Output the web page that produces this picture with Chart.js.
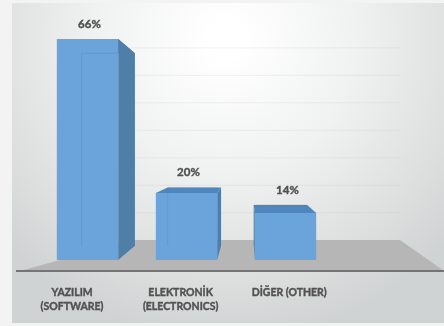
<!DOCTYPE html>
<html>
<head>
<meta charset="utf-8">
<style>
  body { margin: 0; background: #f3f3f3; }
  canvas { display: block; filter: blur(0.5px); }
</style>
<script src="https://cdn.jsdelivr.net/npm/chart.js@4"></script>
</head>
<body>
<canvas id="myChart" width="444" height="326"></canvas>
<script>
// 4th slot stays empty, the original chart leaves it blank
const categories = ["YAZILIM (SOFTWARE)", "ELEKTRONİK (ELECTRONICS)", "DİĞER (OTHER)", ""];
const categoryLines = [["YAZILIM", "(SOFTWARE)"], ["ELEKTRONİK", "(ELECTRONICS)"], ["DİĞER (OTHER)"], []];
const shares = [66, 20, 14, null];
const gridValues = [10, 20, 30, 40, 50, 60, 70];

const vanishX = 247;
const vanishY = 150;
const barDepth = 0.13;
const wallDepth = 0.18;
const labelSpread = 1.097;

function back(x, y, k) {
  return [x + (vanishX - x) * k, y + (vanishY - y) * k];
}

function poly(ctx, points, color) {
  ctx.fillStyle = color;
  ctx.beginPath();
  points.forEach((p, i) => (i ? ctx.lineTo(p[0], p[1]) : ctx.moveTo(p[0], p[1])));
  ctx.closePath();
  ctx.fill();
}

const scene = {
  id: "scene",
  beforeDraw(chart) {
    const ctx = chart.ctx;
    const yScale = chart.scales.y;
    ctx.save();

    // page + gradient panel
    ctx.fillStyle = "#f3f3f3";
    ctx.fillRect(0, 0, 444, 326);
    const bg = ctx.createRadialGradient(225, 40, 20, 225, 40, 300);
    bg.addColorStop(0, "#ffffff");
    bg.addColorStop(0.4, "#f0f1f1");
    bg.addColorStop(0.8, "#dcdede");
    bg.addColorStop(1, "#d0d3d3");
    ctx.fillStyle = bg;
    ctx.fillRect(12, 3, 432, 320);

    // back wall lines
    ctx.strokeStyle = "rgba(190,190,190,0.2)";
    ctx.lineWidth = 1;
    gridValues.forEach((v) => {
      const y = back(0, yScale.getPixelForValue(v), wallDepth)[1];
      ctx.beginPath();
      ctx.moveTo(132, y);
      ctx.lineTo(400, y);
      ctx.stroke();
    });

    // floor
    poly(ctx, [[20, 271], [132, 240], [400, 240], [444, 271]], "#b6b6b6");
    ctx.fillStyle = "#757575";
    ctx.fillRect(16, 270, 428, 2);
    ctx.restore();
  },
  beforeDatasetsDraw(chart) {
    const ctx = chart.ctx;
    ctx.save();
    chart.getDatasetMeta(0).data.forEach((bar, i) => {
      if (shares[i] === null) return;
      const left = bar.x - bar.width / 2;
      const right = bar.x + bar.width / 2;
      const top = bar.y;
      const bottom = bar.base;
      const bl = back(left, top, barDepth);
      const br = back(right, top, barDepth);
      const bbl = back(left, bottom, barDepth);
      const bbr = back(right, bottom, barDepth);
      // top face
      poly(ctx, [[left, top], [right, top], br, bl], "#4f86bd");
      // side faces, only the one turned to the viewer shows
      if (right < vanishX) poly(ctx, [[right, top], br, bbr, [right, bottom]], "#4f7fa9");
      if (left > vanishX) poly(ctx, [[left, top], bl, bbl, [left, bottom]], "#4f7fa9");
    });
    ctx.restore();
  },
  afterDatasetsDraw(chart) {
    const ctx = chart.ctx;
    ctx.save();
    ctx.textAlign = "center";
    ctx.textBaseline = "middle";
    ctx.fillStyle = "#525252";
    ctx.strokeStyle = "#525252";
    chart.getDatasetMeta(0).data.forEach((bar, i) => {
      // see-through back edges of the box
      if (shares[i] !== null) {
        const left = bar.x - bar.width / 2;
        const right = bar.x + bar.width / 2;
        const bl = back(left, bar.y, barDepth);
        const br = back(right, bar.y, barDepth);
        const bbl = back(left, bar.base, barDepth);
        ctx.strokeStyle = "rgba(70,120,170,0.2)";
        ctx.lineWidth = 1;
        ctx.beginPath();
        ctx.moveTo(bbl[0], bbl[1]);
        ctx.lineTo(bl[0], bl[1]);
        ctx.lineTo(Math.min(br[0], right), bl[1]);
        ctx.stroke();

        ctx.strokeStyle = "#525252";
        ctx.lineWidth = 0.4;
        ctx.font = "bold 11.5px Lato, 'Liberation Sans', sans-serif";
        const labelY = Math.min(bar.y, bl[1]) - 15;
        ctx.fillText(shares[i] + "%", bar.x + 2, labelY);
        ctx.strokeText(shares[i] + "%", bar.x + 2, labelY);
      }
      // axis labels sit on the front of the floor, spread wider than the bars
      ctx.lineWidth = 0.4;
      ctx.font = "bold 10.5px Lato, 'Liberation Sans', sans-serif";
      const x = vanishX + (bar.x - vanishX) * labelSpread;
      categoryLines[i].forEach((line, n) => {
        ctx.fillText(line, x, 292.5 + n * 14.5);
        ctx.strokeText(line, x, 292.5 + n * 14.5);
      });
    });
    ctx.restore();
  },
};

const ctx = document.getElementById("myChart").getContext("2d");
const myChart = new Chart(ctx, {
  type: "bar",
  data: {
    labels: categories,
    datasets: [
      {
        data: shares,
        backgroundColor: "#6ba4da",
        categoryPercentage: 1,
        barPercentage: 0.62,
      },
    ],
  },
  options: {
    responsive: false,
    animation: false,
    layout: { padding: { left: 38, right: 10, top: 25.5, bottom: 66 } },
    plugins: { legend: { display: false }, tooltip: { enabled: false } },
    scales: {
      x: { display: false },
      y: { display: false, min: 0, max: 70 },
    },
  },
  plugins: [scene],
});
</script>
</body>
</html>
